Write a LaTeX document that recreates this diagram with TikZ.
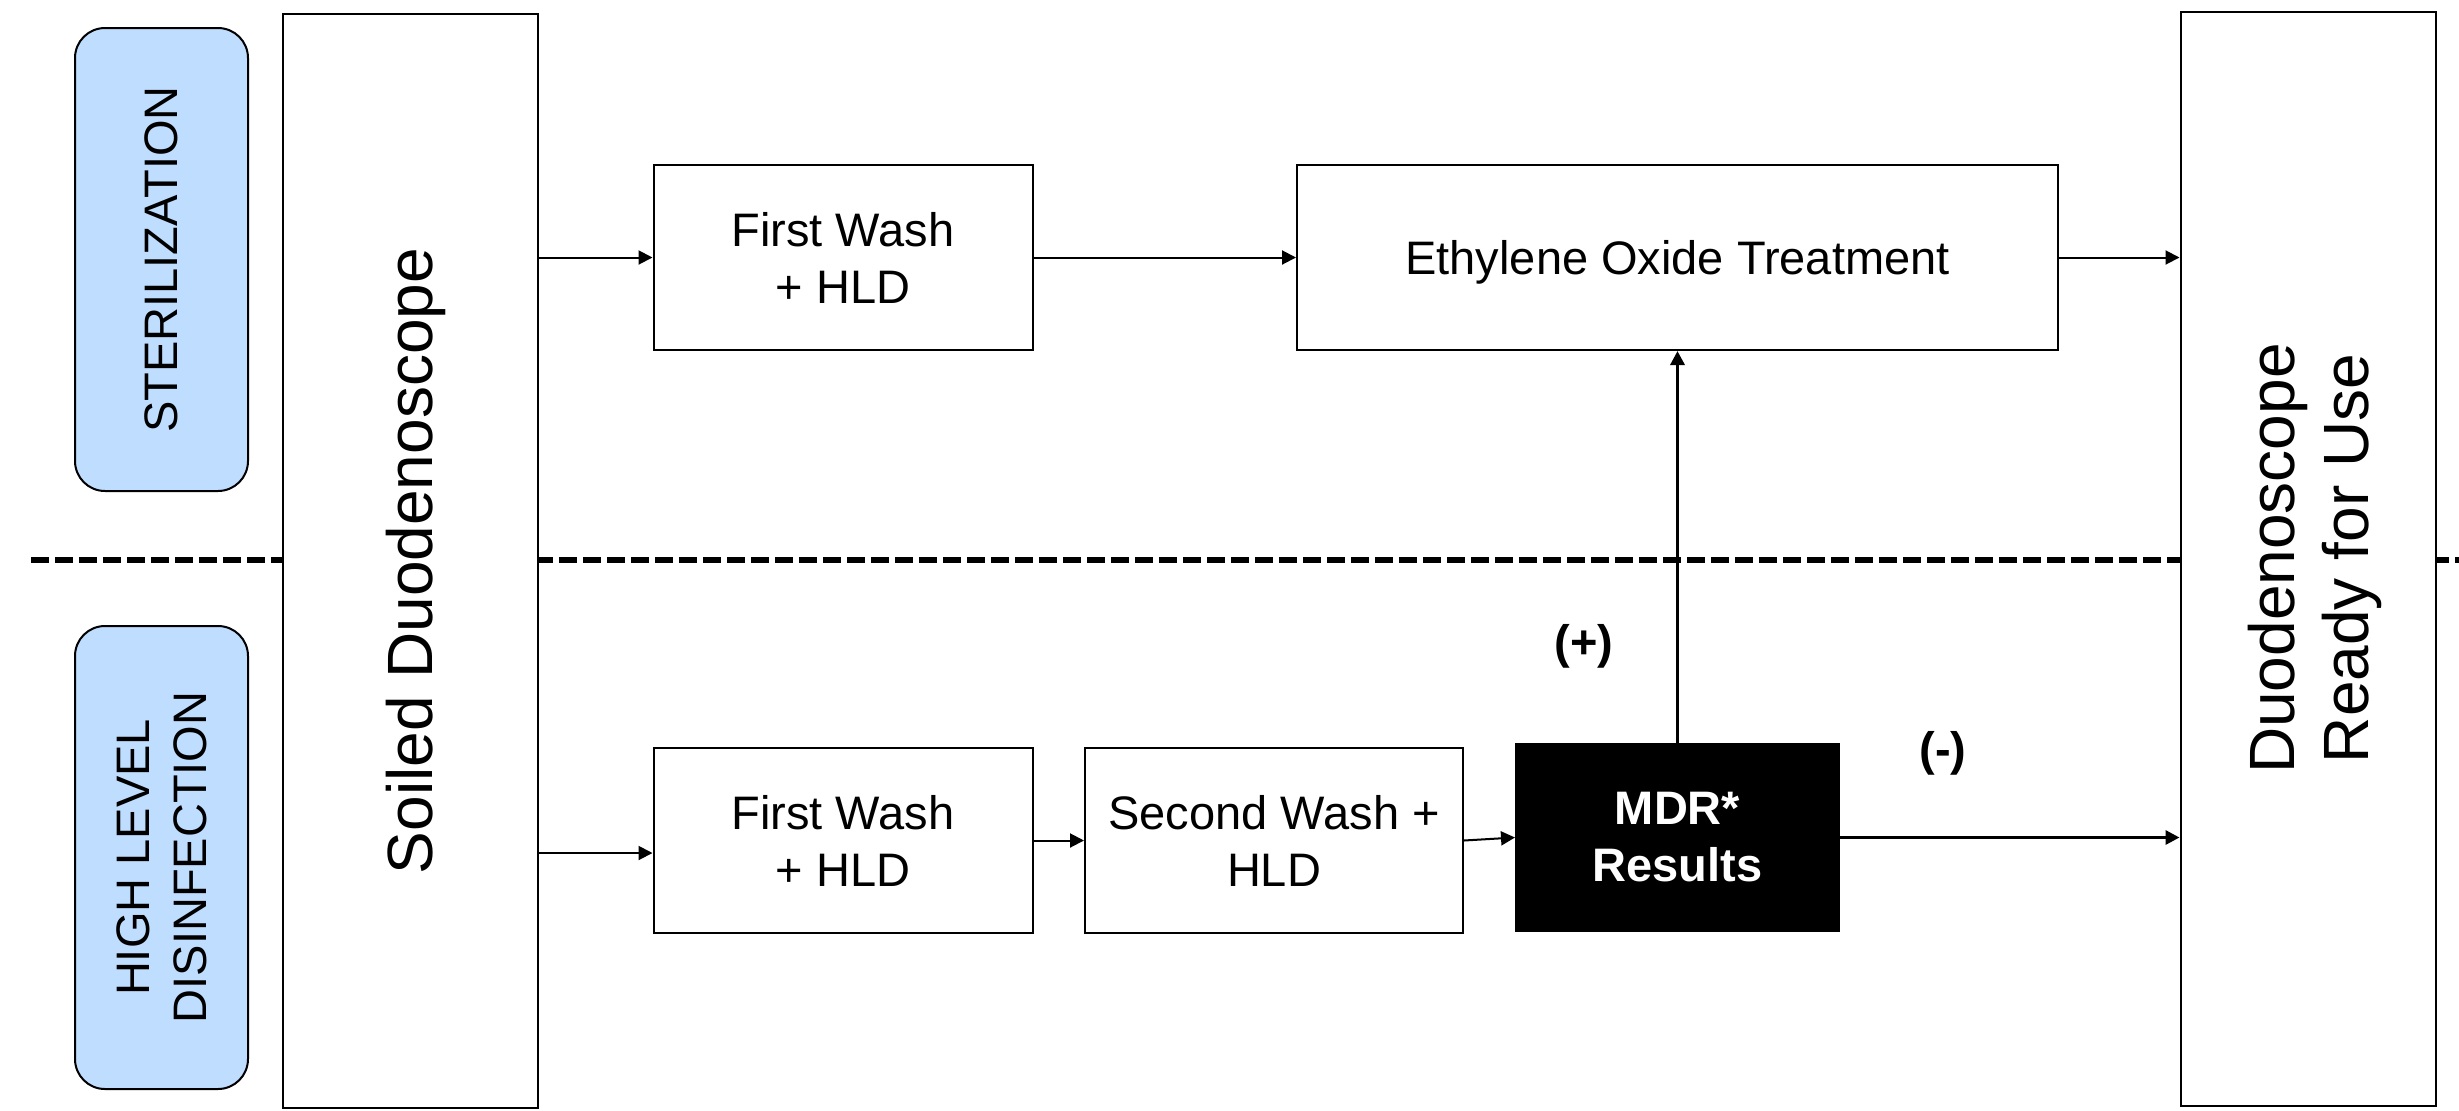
\documentclass[tikz,border=0pt]{standalone}
\usepackage{fontspec}
\setmainfont{Liberation Sans}
\usetikzlibrary{arrows.meta}
\definecolor{pillblue}{RGB}{191,221,254}
\begin{document}
\begin{tikzpicture}[x=0.5pt,y=-0.5pt,
  box/.style={draw, line width=1pt, fill=white, inner sep=0pt, align=center,
    font=\fontsize{23.5}{28.5}\selectfont},
  tall/.style={draw, line width=1pt, fill=white, inner sep=0pt,
    minimum width=127.5pt, minimum height=547pt},
  pill/.style={draw, line width=1pt, fill=pillblue, rounded corners=15pt, inner sep=0pt,
    minimum width=86.5pt, minimum height=231.5pt},
  vtext/.style={rotate=90, align=center, inner sep=0pt},
  small/.style={font=\fontsize{23.5}{28.5}\selectfont},
  big/.style={font=\fontsize{32}{37}\selectfont},
  arr/.style={line width=1pt, -{Triangle[length=7pt,width=7pt]}},
  thickarr/.style={line width=1.6pt, -{Triangle[length=7pt,width=7pt]}},
  sign/.style={font=\bfseries\fontsize{23.5}{28.5}\selectfont, inner sep=0pt}
]
\useasboundingbox (0,0) rectangle (2459,1110);

% dashed separator
\coordinate (dl) at (31,560);
\coordinate (dr) at (2459,560);
\draw[line width=2.8pt, dash pattern=on 9pt off 3pt] (dl) -- (dr);

% side labels
\node[pill] (ps) at (161.5,259.5) {};
\node[vtext, small] (pst) at (ps) {STERILIZATION};
\node[pill] (ph) at (161.5,857.5) {};
\node[vtext, small] (pht) at (ph) {HIGH LEVEL\\DISINFECTION};

% tall boxes
\node[tall] (soiled) at (410.5,561) {};
\node[vtext, big] (soiledt) at ([xshift=2.5pt]soiled.center) {Soiled Duodenoscope};
\node[tall] (ready) at (2308,558.5) {};
\node[vtext, big] (readyt) at ([xshift=3.5pt]ready.center) {Duodenoscope\\Ready for Use};

% sterilization row
\node[box, minimum width=189.5pt, minimum height=92.5pt] (fwt) at (843,257.5) {First Wash\\+ HLD};
\node[box, text depth=0pt, minimum width=380.5pt, minimum height=92.5pt] (eto) at (1677.5,257.5) {Ethylene Oxide Treatment};

% HLD row
\node[box, minimum width=189.5pt, minimum height=92.5pt] (fwb) at (843,840.5) {First Wash\\+ HLD};
\node[box, minimum width=189pt, minimum height=92.5pt] (sw) at (1274,840.5) {Second Wash +\\HLD};
\node[box, fill=black, text=white, font=\bfseries\fontsize{23.5}{28.5}\selectfont,
  minimum width=161.5pt, minimum height=93.5pt] (mdr) at (1677.5,837.5) {MDR*\\Results};

% signs
\node[sign] (plus) at (1584,646) {(+)};
\node[sign] (minus) at (1943,753) {(-)};

% connectors
\draw[arr] (soiled.east |- fwt.west) -- (fwt.west);
\draw[arr] (fwt.east) -- (eto.west);
\draw[arr] (eto.east) -- (ready.west |- eto.east);
\coordinate (fwin) at ([yshift=-6.25pt]fwb.west);
\draw[arr] (soiled.east |- fwin) -- (fwin);
\draw[arr] (fwb.east) -- (sw.west);
\draw[arr] (sw.east) -- (mdr.west);
\draw[thickarr] (mdr.north) -- (eto.south);
\draw[thickarr] (mdr.east) -- (ready.west |- mdr.east);
\end{tikzpicture}
\end{document}
